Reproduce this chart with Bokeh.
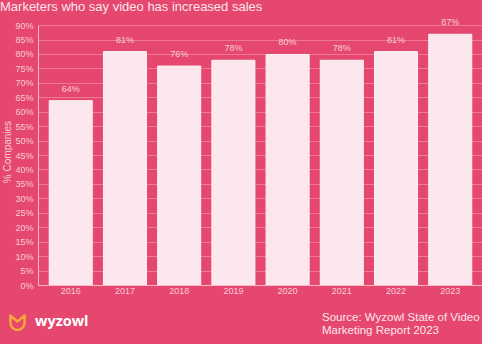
from bokeh.plotting import figure
from bokeh.models import FactorRange, Range1d, FixedTicker, ColumnDataSource, LabelSet, Div
from bokeh.layouts import column, row
from bokeh.core.properties import value
from bokeh.embed import file_html
from bokeh.resources import INLINE

# ---- data ----
years = ["2016", "2017", "2018", "2019", "2020", "2021", "2022", "2023"]
pct = [64, 81, 76, 78, 80, 78, 81, 87]
y_ticks = [0, 5, 10, 15, 20, 25, 30, 35, 40, 45, 50, 55, 60, 65, 70, 75, 80, 85, 90]
title_text = "Marketers who say video has increased sales"
y_label = "% Companies"
source_lines = ["Source: Wyzowl State of Video", "Marketing Report 2023"]
brand = "wyzowl"

BG = "#E5476F"
BAR = "#FDE7EE"
TXT = "#F9CCD8"
GRID = "#EF7895"
AXIS = "#F8B8C8"
FONT = "Liberation Sans"
W = 482
LBL_W = 12
CH = 287

# ---- title (html) ----
title_div = Div(width=W, height=15, margin=0, styles={"background-color": BG},
                text=(f'<div style="position:relative;width:{W}px;height:15px;background:{BG};overflow:visible;">'
                      f'<span style="position:absolute;left:0px;top:0px;white-space:nowrap;font-family:\'{FONT}\';'
                      f'font-size:13px;line-height:13px;color:#FDE4EB;">{title_text}</span></div>'))

# ---- y axis title (html, rotated) ----
ylabel_div = Div(width=LBL_W, height=CH, margin=0, styles={"background-color": BG},
                 text=(f'<div style="position:relative;width:{LBL_W}px;height:{CH}px;background:{BG};">'
                       f'<span style="position:absolute;left:6.5px;top:137px;transform:translate(-50%,-50%) rotate(-90deg);'
                       f'white-space:nowrap;font-family:\'{FONT}\';font-size:10px;line-height:11px;color:{TXT};">'
                       f'{y_label}</span></div>'))

# ---- chart ----
src = ColumnDataSource(dict(year=years, pct=pct, label=[f"{v}%" for v in pct]))

p = figure(width=W - LBL_W, height=CH,
           x_range=FactorRange(*years, range_padding=0.095, range_padding_units="absolute"),
           y_range=Range1d(0, 93.5), output_backend="svg", toolbar_location=None,
           background_fill_color=BG, border_fill_color=BG, margin=0,
           min_border_left=23, min_border_right=0, min_border_bottom=17, min_border_top=0)
p.outline_line_color = None

p.vbar(x="year", top="pct", width=0.794, source=src, fill_color=BAR, line_color="#FFF1F5", line_width=1)

labels = LabelSet(x="year", y="pct", text="label", source=src, text_align="center", text_baseline="alphabetic",
                  y_offset=9, text_font=value(FONT), text_font_size="9px", text_color=TXT)
p.add_layout(labels)

p.yaxis.ticker = FixedTicker(ticks=y_ticks)
p.yaxis.major_label_overrides = {t: f"{t}%" for t in y_ticks}
p.yaxis.bounds = (0, 90)
p.yaxis.major_label_standoff = 5
p.yaxis.major_label_text_font = FONT
p.yaxis.major_label_text_font_size = "9px"
p.yaxis.major_label_text_color = TXT
p.yaxis.major_tick_line_color = None
p.yaxis.major_tick_out = 0
p.yaxis.major_tick_in = 0
p.yaxis.minor_tick_line_color = None
p.yaxis.minor_tick_out = 0
p.yaxis.axis_line_color = AXIS

p.xaxis.major_label_standoff = 2
p.xaxis.major_label_text_font = FONT
p.xaxis.major_label_text_font_size = "9px"
p.xaxis.major_label_text_color = TXT
p.xaxis.major_tick_line_color = None
p.xaxis.major_tick_out = 0
p.xaxis.major_tick_in = 0
p.xaxis.minor_tick_line_color = None
p.xaxis.minor_tick_out = 0
p.xaxis.axis_line_color = AXIS

p.xgrid.grid_line_color = None
p.ygrid.ticker = FixedTicker(ticks=y_ticks)
p.ygrid.grid_line_color = GRID
p.ygrid.grid_line_width = 1

# ---- footer (html): logo + source ----
icon_svg = ('<svg style="position:absolute;left:0px;top:0px;" width="40" height="42" viewBox="0 0 40 42">'
            '<path d="M 10.3 13.5 L 10.5 21 A 7 7 0 0 0 24.5 21 L 24.7 13.5 L 17.5 19.5 Z" fill="none" '
            'stroke="#F7A53B" stroke-width="2.5" stroke-linejoin="round"/></svg>')
footer_html = (
    f'<div style="position:relative;width:{W}px;height:42px;background:{BG};">'
    + icon_svg +
    f'<span style="position:absolute;left:35px;top:11.8px;white-space:nowrap;font-family:\'Open Sans\';'
    f'font-weight:bold;font-size:14.5px;line-height:14.5px;color:#FFFFFF;">{brand}</span>'
    f'<span style="position:absolute;left:322px;top:8.5px;white-space:nowrap;font-family:\'{FONT}\';'
    f'font-size:11.5px;line-height:13px;color:#FDE6EC;">{source_lines[0]}<br>{source_lines[1]}</span>'
    '</div>')
footer_div = Div(width=W, height=42, margin=0, styles={"background-color": BG}, text=footer_html)

mid = row(ylabel_div, p, spacing=0, margin=0, styles={"background-color": BG})
layout = column(title_div, mid, footer_div, spacing=0, margin=0, styles={"background-color": BG})
open("out.html", "w").write(file_html(layout, INLINE))
